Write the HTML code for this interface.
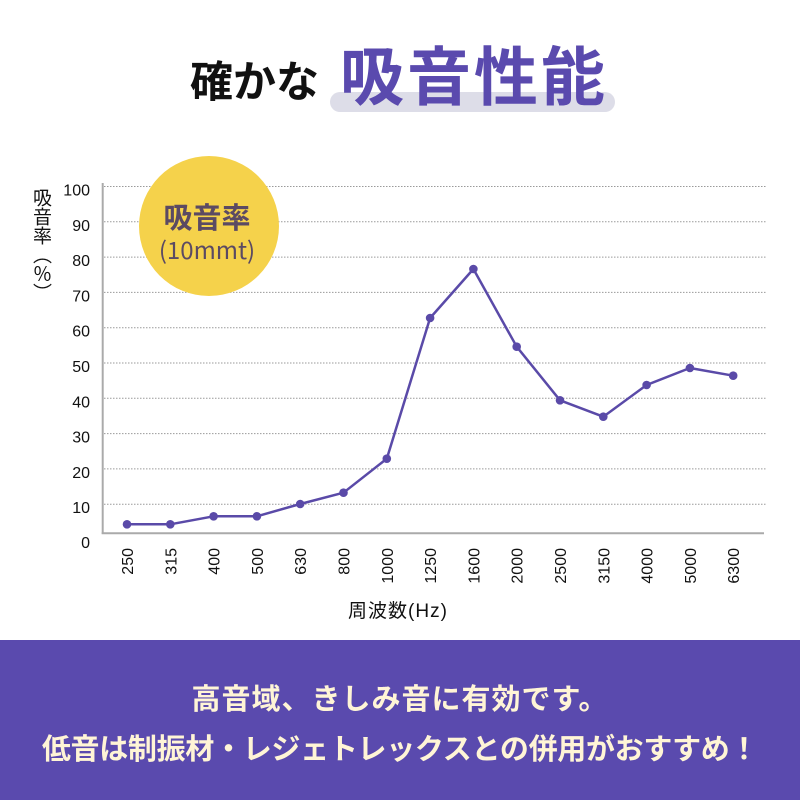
<!DOCTYPE html>
<html><head><meta charset="utf-8">
<style>
html,body{margin:0;padding:0;background:#fff;}
body{width:800px;height:800px;overflow:hidden;position:relative;font-family:"Liberation Sans","Noto Sans CJK JP",sans-serif;}
svg{position:absolute;left:0;top:0;}
.banner{position:absolute;left:0;top:640px;width:800px;height:160px;background:#5a4aae;color:#fff5d6;font-family:"Noto Sans CJK JP",sans-serif;font-weight:bold;font-size:29px;text-align:center;}
.banner div{position:absolute;left:0;width:800px;line-height:40px;}
.ytitle{position:absolute;left:32px;top:188px;width:20px;line-height:20px;font-size:19px;font-family:"Noto Sans CJK JP",sans-serif;writing-mode:vertical-rl;-webkit-writing-mode:vertical-rl;text-orientation:mixed;color:#111;white-space:nowrap;}
</style></head><body>
<svg width="800" height="800" viewBox="0 0 800 800" xmlns="http://www.w3.org/2000/svg">
  <!-- title -->
  <rect x="330" y="92" width="285" height="20" rx="10" fill="#dddde8"/>
  <text x="190" y="97" font-family="Noto Sans CJK JP, sans-serif" font-weight="bold" font-size="43" fill="#111">確かな</text>
  <text x="340" y="100" font-family="Noto Sans CJK JP, sans-serif" font-weight="bold" font-size="64" fill="#5a4aae" textLength="265">吸音性能</text>

  <!-- gridlines -->
  <g stroke="#9a9a9a" stroke-width="1" stroke-dasharray="1.5,1.5">
    <line x1="104" x2="766" y1="186.5" y2="186.5"/>
    <line x1="104" x2="766" y1="221.8" y2="221.8"/>
    <line x1="104" x2="766" y1="257.1" y2="257.1"/>
    <line x1="104" x2="766" y1="292.4" y2="292.4"/>
    <line x1="104" x2="766" y1="327.7" y2="327.7"/>
    <line x1="104" x2="766" y1="363" y2="363"/>
    <line x1="104" x2="766" y1="398.3" y2="398.3"/>
    <line x1="104" x2="766" y1="433.6" y2="433.6"/>
    <line x1="104" x2="766" y1="468.9" y2="468.9"/>
    <line x1="104" x2="766" y1="504.2" y2="504.2"/>
  </g>
  <!-- axes -->
  <line x1="102.7" x2="102.7" y1="183" y2="534" stroke="#aaaaaa" stroke-width="2"/>
  <line x1="101.7" x2="764" y1="533.3" y2="533.3" stroke="#aaaaaa" stroke-width="2"/>

  <!-- yellow circle -->
  <circle cx="209" cy="226" r="70" fill="#f5d24b"/>
  <text x="207" y="228" text-anchor="middle" font-family="Noto Sans CJK JP, sans-serif" font-weight="bold" font-size="29" fill="#5b4a63">吸音率</text>
  <text x="207" y="259" text-anchor="middle" font-family="Noto Sans CJK JP, sans-serif" font-size="24" fill="#5b4a63">(10mmt)</text>

  <!-- y tick labels -->
  <g font-family="Liberation Sans, sans-serif" font-size="16" fill="#111" text-anchor="end">
    <text x="90" y="195.5">100</text>
    <text x="90" y="230.8">90</text>
    <text x="90" y="266.1">80</text>
    <text x="90" y="301.4">70</text>
    <text x="90" y="336.7">60</text>
    <text x="90" y="372">50</text>
    <text x="90" y="407.3">40</text>
    <text x="90" y="442.6">30</text>
    <text x="90" y="477.9">20</text>
    <text x="90" y="513.2">10</text>
    <text x="90" y="548">0</text>
  </g>

  <!-- x tick labels -->
  <g font-family="Liberation Sans, sans-serif" font-size="16" fill="#111" text-anchor="end">
    <text transform="translate(133,548) rotate(-90)">250</text>
    <text transform="translate(176.3,548) rotate(-90)">315</text>
    <text transform="translate(219.6,548) rotate(-90)">400</text>
    <text transform="translate(262.9,548) rotate(-90)">500</text>
    <text transform="translate(306.2,548) rotate(-90)">630</text>
    <text transform="translate(349.5,548) rotate(-90)">800</text>
    <text transform="translate(392.8,548) rotate(-90)">1000</text>
    <text transform="translate(436.1,548) rotate(-90)">1250</text>
    <text transform="translate(479.4,548) rotate(-90)">1600</text>
    <text transform="translate(522.7,548) rotate(-90)">2000</text>
    <text transform="translate(566,548) rotate(-90)">2500</text>
    <text transform="translate(609.3,548) rotate(-90)">3150</text>
    <text transform="translate(652.6,548) rotate(-90)">4000</text>
    <text transform="translate(695.9,548) rotate(-90)">5000</text>
    <text transform="translate(739.2,548) rotate(-90)">6300</text>
  </g>
  <text x="398" y="617" text-anchor="middle" font-family="Liberation Sans, Noto Sans CJK JP, sans-serif" font-size="19" letter-spacing="1" fill="#111">周波数(Hz)</text>

  <!-- series -->
  <polyline fill="none" stroke="#5a4aa8" stroke-width="2.5" stroke-linejoin="round"
    points="127,524.3 170.3,524.3 213.6,516.3 256.9,516.3 300.2,504 343.5,492.7 386.8,458.7 430.1,318 473.4,269 516.7,346.7 560,400.3 603.3,416.7 646.6,385 689.9,368 733.2,375.7"/>
  <g fill="#5a4aa8">
    <circle cx="127" cy="524.3" r="4.3"/>
    <circle cx="170.3" cy="524.3" r="4.3"/>
    <circle cx="213.6" cy="516.3" r="4.3"/>
    <circle cx="256.9" cy="516.3" r="4.3"/>
    <circle cx="300.2" cy="504" r="4.3"/>
    <circle cx="343.5" cy="492.7" r="4.3"/>
    <circle cx="386.8" cy="458.7" r="4.3"/>
    <circle cx="430.1" cy="318" r="4.3"/>
    <circle cx="473.4" cy="269" r="4.3"/>
    <circle cx="516.7" cy="346.7" r="4.3"/>
    <circle cx="560" cy="400.3" r="4.3"/>
    <circle cx="603.3" cy="416.7" r="4.3"/>
    <circle cx="646.6" cy="385" r="4.3"/>
    <circle cx="689.9" cy="368" r="4.3"/>
    <circle cx="733.2" cy="375.7" r="4.3"/>
  </g>
</svg>
<div class="ytitle">吸音率（％）</div>
<div class="banner">
  <div style="top:37px;letter-spacing:1px;">高音域、きしみ音に有効です。</div>
  <div style="top:87px;letter-spacing:-0.3px;">低音は制振材・レジェトレックスとの併用がおすすめ！</div>
</div>
</body></html>
